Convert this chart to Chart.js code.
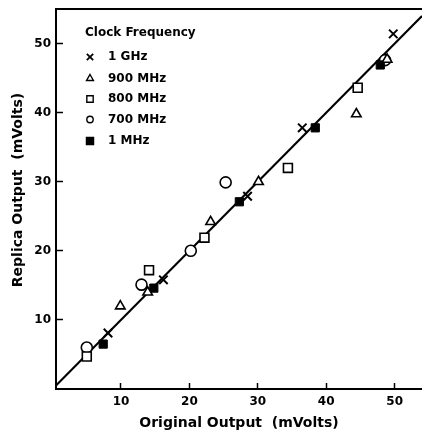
<!DOCTYPE html>
<html>
<head>
<meta charset="utf-8">
<script src="https://cdn.jsdelivr.net/npm/chart.js@4/dist/chart.umd.min.js"></script>
<style>
  html, body { margin: 0; padding: 0; background: #fff; }
  #wrap { width: 422px; height: 432px; }
</style>
</head>
<body>
<div id="wrap"><canvas id="myChart" width="422" height="432"></canvas></div>
<script>
/*====== data ===========================*/
const ghz1X   = [8.1, 16.2, 28.5, 36.5, 49.8];
const ghz1Y   = [8.1, 15.8, 27.9, 37.8, 51.4];
const mhz900X = [9.9, 13.9, 23.1, 30.1, 44.4, 48.9];
const mhz900Y = [12.0, 14.0, 24.2, 30.0, 39.8, 47.7];
const mhz800X = [5.0, 14.1, 22.2, 34.4, 44.6];
const mhz800Y = [4.7, 17.2, 21.9, 32.0, 43.6];
const mhz700X = [5.0, 13.0, 20.2, 25.3, 48.6];
const mhz700Y = [6.0, 15.1, 20.0, 29.9, 47.6];
const mhz1X   = [7.4, 14.8, 27.3, 38.4, 47.9];
const mhz1Y   = [6.5, 14.6, 27.1, 37.8, 46.9];

const lineX = [0, 54];
const lineY = [0, 54];

const xTicks = [10, 20, 30, 40, 50];
const yTicks = [10, 20, 30, 40, 50];

const seriesNames = ['1 GHz', '900 MHz', '800 MHz', '700 MHz', '1 MHz'];
const legendTitle = 'Clock Frequency';
const xTitle = 'Original Output  (mVolts)';
const yTitle = 'Replica Output  (mVolts)';

function pts(xs, ys) {
  return xs.map((x, i) => ({ x: x, y: ys[i] }));
}

/*====== styles =======*/
const FONT = '"DejaVu Sans", sans-serif';

const data = {
  datasets: [
    { label: seriesNames[0], data: pts(ghz1X, ghz1Y), pointStyle: 'crossRot', pointRadius: 6,
      borderColor: '#000', backgroundColor: '#000', borderWidth: 2, order: 0 },
    { label: seriesNames[1], data: pts(mhz900X, mhz900Y), pointStyle: 'triangle', pointRadius: 5.5,
      borderColor: '#000', backgroundColor: '#fff', borderWidth: 1.6, order: 1 },
    { label: seriesNames[2], data: pts(mhz800X, mhz800Y), pointStyle: 'rect', pointRadius: 6.3,
      borderColor: '#000', backgroundColor: '#fff', borderWidth: 1.6, order: 3 },
    { label: seriesNames[3], data: pts(mhz700X, mhz700Y), pointStyle: 'circle', pointRadius: 5.5,
      borderColor: '#000', backgroundColor: '#fff', borderWidth: 1.6, order: 4 },
    { label: seriesNames[4], data: pts(mhz1X, mhz1Y), pointStyle: 'rect', pointRadius: 5.8,
      borderColor: '#000', backgroundColor: '#000', borderWidth: 1, order: 2 },
    { type: 'line', label: 'fit', data: pts(lineX, lineY), borderColor: '#000', borderWidth: 2.2,
      pointRadius: 0, fill: false, order: 10 }
  ]
};

const legendSizes = [4.5, 4, 4.5, 3.2, 5];

/*====== legend + titles =======*/
const decor = {
  id: 'decor',
  afterDraw(chart) {
    const ctx = chart.ctx;
    const area = chart.chartArea;
    ctx.save();
    ctx.fillStyle = '#000';
    ctx.strokeStyle = '#000';
    ctx.textBaseline = 'middle';
    ctx.textAlign = 'left';
    ctx.font = 'bold 12px ' + FONT;
    ctx.fillText(legendTitle, 85, 33);

    const rowsY = [57, 78.5, 99, 119.5, 141];
    for (let i = 0; i < 5; i++) {
      const ds = chart.data.datasets[i];
      ctx.fillStyle = ds.backgroundColor;
      ctx.strokeStyle = ds.borderColor;
      ctx.lineWidth = ds.pointStyle === 'crossRot' ? 1.8 : 1.4;
      Chart.helpers.drawPoint(ctx, {
        pointStyle: ds.pointStyle, radius: legendSizes[i], rotation: 0,
        borderWidth: ctx.lineWidth
      }, 90, rowsY[i]);
      ctx.fillStyle = '#000';
      ctx.fillText(ds.label, 108, rowsY[i]);
    }

    ctx.font = 'bold 14px ' + FONT;
    ctx.textAlign = 'center';
    ctx.fillText(xTitle, (area.left + area.right) / 2, 423);
    ctx.translate(18, 190);
    ctx.rotate(-Math.PI / 2);
    ctx.fillText(yTitle, 0, 0);
    ctx.restore();
  }
};

const config = {
  type: 'scatter',
  data: data,
  options: {
    responsive: false,
    animation: false,
    layout: { padding: 0, autoPadding: false },
    plugins: { legend: { display: false }, tooltip: { enabled: false } },
    scales: {
      x: {
        type: 'linear', position: 'bottom', min: 0.5, max: 54,
        afterFit(s) { s.height = 43; s.paddingLeft = 0; s.paddingRight = 0; },
        afterBuildTicks(s) { s.ticks = xTicks.map(v => ({ value: v })); },
        grid: { drawOnChartArea: false, tickLength: -6, tickWidth: 1.5, tickColor: '#000' },
        border: { color: '#000', width: 2 },
        ticks: { color: '#000', padding: 12, font: { family: FONT, size: 12, weight: 'bold' } }
      },
      x2: {
        type: 'linear', position: 'top', min: 0.5, max: 54,
        afterFit(s) { s.height = 9; s.paddingLeft = 0; s.paddingRight = 0; },
        grid: { display: true, drawOnChartArea: false, drawTicks: false },
        border: { color: '#000', width: 2 },
        ticks: { display: false }
      },
      y: {
        type: 'linear', position: 'left', min: 0, max: 55,
        afterFit(s) { s.width = 56; s.paddingTop = 0; s.paddingBottom = 0; },
        afterBuildTicks(s) { s.ticks = yTicks.map(v => ({ value: v })); },
        grid: { drawOnChartArea: false, tickLength: -7, tickWidth: 1.5, tickColor: '#000' },
        border: { color: '#000', width: 2 },
        ticks: { color: '#000', padding: 12, font: { family: FONT, size: 12, weight: 'bold' } }
      }
    }
  },
  plugins: [decor]
};

const myChart = new Chart(document.getElementById('myChart'), config);
</script>
</body>
</html>
